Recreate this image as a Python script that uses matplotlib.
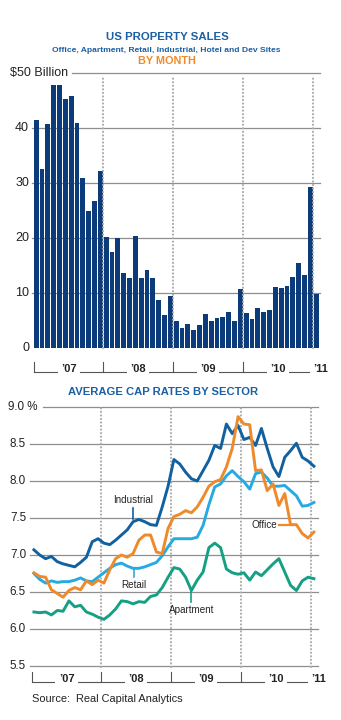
import numpy as np
import matplotlib
matplotlib.use("Agg")
import matplotlib.pyplot as plt

# Monthly US property sales ($ billion), Jan 2007 .. Jan 2011
sales = [41.5, 32.5, 40.7, 47.8, 47.8, 45.3, 45.8, 41.0, 31.0, 24.9, 26.7, 32.2,
         20.1, 17.5, 20.0, 13.6, 12.7, 20.4, 12.7, 14.2, 12.7, 8.7, 6.0, 9.4,
         5.0, 3.7, 4.4, 3.3, 4.1, 6.2, 5.0, 5.5, 5.7, 6.6, 5.0, 10.8,
         6.4, 5.2, 7.3, 6.6, 7.0, 11.1, 11.0, 11.3, 12.9, 15.5, 13.3, 29.2,
         9.9]

# Average cap rates by sector (%), same months
industrial = [7.07, 7.00, 6.95, 6.98, 6.91, 6.88, 6.86, 6.84, 6.90, 6.97, 7.18, 7.22,
              7.16, 7.14, 7.20, 7.27, 7.34, 7.45, 7.48, 7.45, 7.41, 7.40, 7.65, 7.93,
              8.29, 8.23, 8.12, 8.03, 8.00, 8.14, 8.28, 8.48, 8.44, 8.77, 8.64, 8.75,
              8.56, 8.59, 8.48, 8.71, 8.44, 8.19, 8.06, 8.32, 8.41, 8.51, 8.32, 8.27,
              8.20]
office = [6.76, 6.71, 6.70, 6.53, 6.48, 6.43, 6.52, 6.56, 6.53, 6.65, 6.60, 6.66,
          6.62, 6.80, 6.95, 7.00, 6.97, 7.02, 7.20, 7.27, 7.27, 7.04, 7.02, 7.36,
          7.52, 7.55, 7.60, 7.57, 7.65, 7.78, 7.93, 7.99, 8.02, 8.19, 8.44, 8.87,
          8.77, 8.76, 8.14, 8.15, 7.87, 7.96, 7.67, 7.83, 7.41, 7.41, 7.29, 7.23,
          7.31]
retail = [6.75, 6.67, 6.62, 6.65, 6.63, 6.64, 6.64, 6.66, 6.69, 6.65, 6.64, 6.70,
          6.76, 6.82, 6.87, 6.89, 6.85, 6.82, 6.82, 6.84, 6.87, 6.90, 6.99, 7.11,
          7.22, 7.22, 7.22, 7.22, 7.24, 7.40, 7.68, 7.92, 7.96, 8.07, 8.14, 8.06,
          7.99, 7.89, 8.10, 8.12, 8.04, 7.93, 7.93, 7.94, 7.87, 7.80, 7.66, 7.67,
          7.71]
apartment = [6.23, 6.22, 6.23, 6.19, 6.25, 6.24, 6.38, 6.30, 6.32, 6.23, 6.20, 6.16,
             6.13, 6.19, 6.27, 6.38, 6.37, 6.34, 6.37, 6.36, 6.44, 6.46, 6.56, 6.70,
             6.83, 6.81, 6.70, 6.52, 6.66, 6.77, 7.10, 7.16, 7.10, 6.81, 6.76, 6.74,
             6.76, 6.66, 6.77, 6.72, 6.80, 6.88, 6.95, 6.77, 6.59, 6.52, 6.65, 6.70,
             6.68]

years = ["\u201907", "\u201908", "\u201909", "\u201910", "\u201911"]
sales_ticks = [10, 20, 30, 40]
rate_ticks = [5.5, 6.0, 6.5, 7.0, 7.5, 8.0, 8.5]

TITLE_BLUE = "#1b5fa5"
ORANGE = "#ef8a2a"
NAVY = "#0b3b7a"
GRID = "#8e8e8e"
DOTS = "#ababab"
W, H = 341, 720
MONTH = 5.833  # pixels per month

plt.rcParams["font.family"] = ["Liberation Sans", "DejaVu Sans"]
fig = plt.figure(figsize=(W / 100, H / 100), dpi=100)
fig.patch.set_facecolor("white")


def box(left, top, right, bottom):
    return [left / W, 1 - bottom / H, (right - left) / W, (bottom - top) / H]


def divider(ax, x, y0, y1):
    ax.plot([x, x], [y0, y1], color=DOTS, lw=1.5, linestyle=(0, (0.1, 1.6)),
            dash_capstyle="round", zorder=3)


def year_bracket(ax, y_line, y_tick, y_label):
    edges = [-0.3, 11.5, 23.5, 35.5, 47.5, 50.1]
    ax.plot([edges[0], edges[-1]], [y_line, y_line], color="#555555", lw=0.8,
            clip_on=False, zorder=1)
    for e in edges:
        ax.plot([e, e], [y_line, y_tick], color="#555555", lw=0.8, clip_on=False)
    for lab, a, b in zip(years, edges[:-1], edges[1:]):
        ax.text((a + b) / 2, y_label, lab, ha="center", va="center", fontsize=8,
                fontweight="bold", color="#222222", clip_on=False, zorder=2,
                bbox=dict(boxstyle="square,pad=0.3", fc="white", ec="none"))


# ---- Titles ----
fig.text(167 / W, 1 - 36.5 / H, "US PROPERTY SALES", ha="center", va="center",
         fontsize=8.2, fontweight="bold", color=TITLE_BLUE)
fig.text(166.5 / W, 1 - 50 / H, "Office, Apartment, Retail, Industrial, Hotel and Dev Sites",
         ha="center", va="center", fontsize=6.1, fontweight="bold", color=TITLE_BLUE,
         family=["Liberation Sans Narrow", "Liberation Sans", "DejaVu Sans"])
fig.text(167 / W, 1 - 60.5 / H, "BY MONTH", ha="center", va="center",
         fontsize=7.8, fontweight="bold", color=ORANGE)

# ---- Top: monthly sales bars ----
x0 = 33.3
ax1 = fig.add_axes(box(0, 60, W, 380))
ax1.set_xlim((0 - x0) / MONTH - 0.5, (W - x0) / MONTH - 0.5)
ax1.set_ylim((348 - 380) / 5.5, (348 - 60) / 5.5)
ax1.axis("off")


def px1(p):
    return (p - x0) / MONTH - 0.5


ax1.bar(np.arange(len(sales)), sales, width=0.84, color=NAVY, zorder=2)
for v in sales_ticks:
    ax1.plot([px1(32), px1(320)], [v, v], color=GRID, lw=0.9, zorder=1)
    ax1.text(px1(29), v, str(v), ha="right", va="center", fontsize=9, color="#222222")
ax1.plot([px1(72), px1(320)], [50, 50], color=GRID, lw=0.9, zorder=1)
ax1.text(px1(10), 50, "$50 Billion", ha="left", va="center", fontsize=9, color="#222222")
ax1.text(px1(29), 0, "0", ha="right", va="center", fontsize=9, color="#222222")
for b in [11.5, 23.5, 35.5, 47.5]:
    divider(ax1, b, 0, 49.2)
year_bracket(ax1, (348 - 372) / 5.5, (348 - 362) / 5.5, (348 - 369) / 5.5)

# ---- Bottom: cap rates ----
fig.text(163.5 / W, 1 - 392 / H, "AVERAGE CAP RATES BY SECTOR", ha="center",
         va="center", fontsize=8.1, fontweight="bold", color=TITLE_BLUE)

x0b = 31.0
ax2 = fig.add_axes(box(0, 400, W, 690))
ax2.set_xlim((0 - x0b) / MONTH - 0.5, (W - x0b) / MONTH - 0.5)
ax2.set_ylim(9.0 - (690 - 407) / 74, 9.0 + (407 - 400) / 74)
ax2.axis("off")


def px2(p):
    return (p - x0b) / MONTH - 0.5


for v in rate_ticks:
    ax2.plot([px2(30), px2(318)], [v, v], color=GRID, lw=0.9, zorder=1)
    ax2.text(px2(26), v, f"{v:.1f}", ha="right", va="center", fontsize=8.4, color="#222222")
ax2.plot([px2(43), px2(318)], [9.0, 9.0], color=GRID, lw=0.9, zorder=1)
ax2.text(px2(8), 9.0, "9.0 %", ha="left", va="center", fontsize=8.4, color="#222222")
for b in [11.5, 23.5, 35.5, 47.5]:
    divider(ax2, b, 5.49, 9.03)

months = np.arange(len(industrial))
colors = {"Apartment": "#15a083", "Retail": "#27aae1",
          "Industrial": "#11609f", "Office": ORANGE}
ax2.plot(months, apartment, color=colors["Apartment"], lw=2.1, zorder=4)
ax2.plot(months, retail, color=colors["Retail"], lw=2.1, zorder=5)
ax2.plot(months, industrial, color=colors["Industrial"], lw=2.1, zorder=6)
ax2.plot(months, office, color=colors["Office"], lw=2.1, zorder=7)

# series labels with short leaders
ax2.plot([17, 17], [industrial[17] + 0.04, industrial[17] + 0.18],
         color=colors["Industrial"], lw=1.2, zorder=6)
ax2.text(17, 7.74, "Industrial", ha="center", va="center", fontsize=7.1, color="#222222")
ax2.plot([17.1, 17.1], [retail[17], retail[17] - 0.12], color=colors["Retail"], lw=1.2, zorder=5)
ax2.text(17.1, 6.59, "Retail", ha="center", va="center", fontsize=7.1, color="#222222")
ax2.plot([27, 27], [apartment[27], apartment[27] - 0.16], color=colors["Apartment"],
         lw=1.2, zorder=4)
ax2.text(27, 6.26, "Apartment", ha="center", va="center", fontsize=7.1, color="#222222")
ax2.plot([42.0, 44], [office[44], office[44]], color=colors["Office"], lw=1.6, zorder=7)
ax2.text(41.8, office[44], "Office", ha="right", va="center", fontsize=7.1, color="#222222")

year_bracket(ax2, 9.0 - (682 - 407) / 74, 9.0 - (672 - 407) / 74, 9.0 - (679 - 407) / 74)

fig.text(32 / W, 1 - 699 / H, "Source:  Real Capital Analytics", ha="left", va="center",
         fontsize=7.9, color="#222222")

fig.savefig("out.png", dpi=100)
